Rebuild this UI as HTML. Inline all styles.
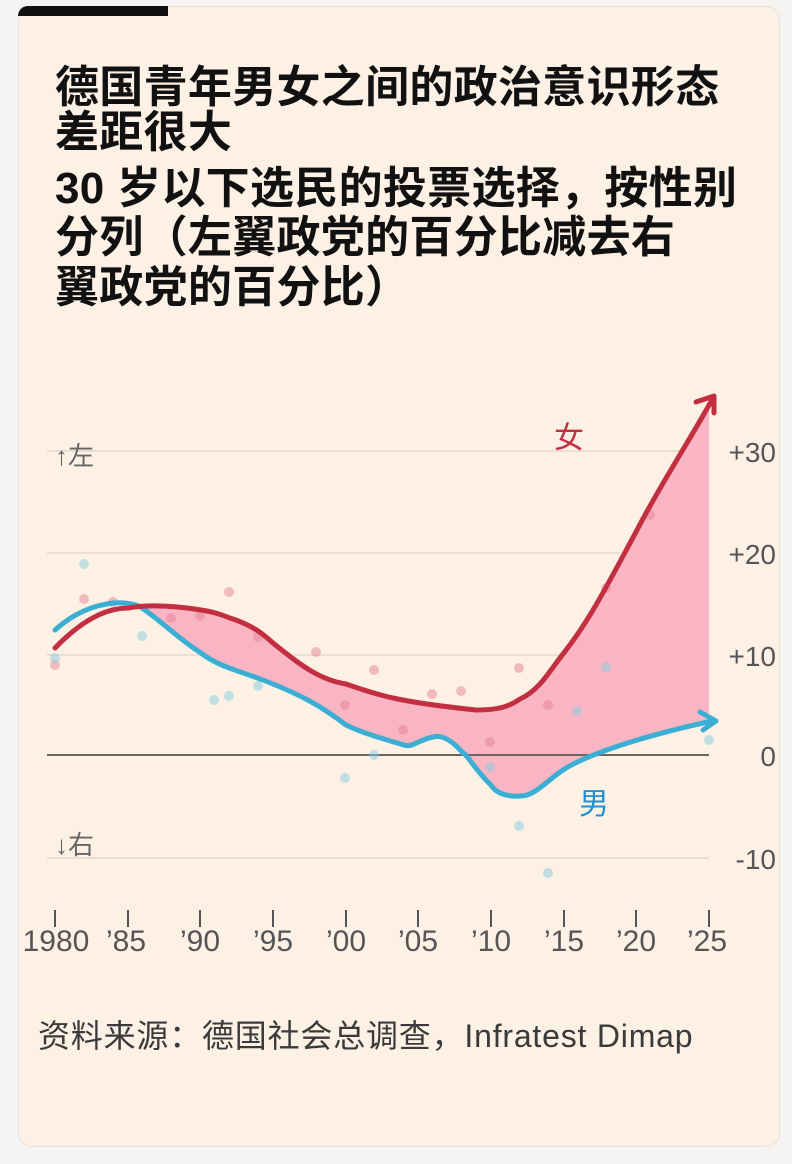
<!DOCTYPE html><html><head><meta charset="utf-8"><style>
body{margin:0;width:792px;height:1164px;background:#f6f4f2;position:relative;overflow:hidden;font-family:"Liberation Sans","Noto Sans CJK SC",sans-serif}
.card{position:absolute;left:18px;top:6px;width:760px;height:1139px;background:#fdf1e6;border-radius:14px;border:1px solid #e6e0da}
.bar{position:absolute;left:18px;top:6px;width:150px;height:10px;background:#111;border-top-left-radius:12px}
.t{position:absolute;left:55px;font-size:44px;font-weight:bold;color:#111;white-space:nowrap;line-height:1;letter-spacing:0.3px}
.src{position:absolute;left:38px;top:1011px;font-size:32px;color:#3a3a3a;white-space:nowrap;letter-spacing:0.8px}
</style></head><body>
<div class="card"></div><div class="bar"></div>
<div class="t" style="top:66px">德国青年男女之间的政治意识形态</div>
<div class="t" style="top:111px">差距很大</div>
<div class="t" style="top:167px">30 岁以下选民的投票选择，按性别</div>
<div class="t" style="top:216px">分列（左翼政党的百分比减去右</div>
<div class="t" style="top:266px">翼政党的百分比）</div>
<svg width="792" height="1164" style="position:absolute;left:0;top:0" font-family="Liberation Sans, Noto Sans CJK SC, sans-serif">
<g stroke="#eaddd3" stroke-width="2">
<line x1="47" y1="451" x2="709" y2="451"/><line x1="47" y1="553" x2="709" y2="553"/>
<line x1="47" y1="655" x2="709" y2="655"/><line x1="47" y1="858" x2="709" y2="858"/></g>
<path d="M142,606 C170,604 195,608 230,618 C255,626 265,636 273,643 C300,665 320,680 346,684 C380,696 400,702 476,710 C500,710 510,706 520,699 C540,690 550,670 563,654 C590,620 610,580 636,532 C660,485 690,440 709,405 L709,721 C680,728 640,738 607,750 C590,756 575,762 563,770 C545,782 535,796 520,796 C505,797 495,792 491,785 C475,770 468,755 462,752 C450,738 440,735 433,737 C418,740 412,748 404,745 C380,738 360,732 346,725 C320,705 300,695 273,684 C245,672 220,668 201,653 C180,640 160,620 142,608 Z" fill="#f9b5c4"/>
<line x1="47" y1="755" x2="709" y2="755" stroke="#6b6560" stroke-width="2"/>
<g fill="#e58593" opacity="0.5">
<circle cx="55" cy="665" r="5"/><circle cx="84" cy="599" r="5"/><circle cx="113" cy="602" r="5"/><circle cx="171" cy="618" r="5"/><circle cx="200" cy="616" r="5"/><circle cx="229" cy="592" r="5"/><circle cx="258" cy="637" r="5"/><circle cx="316" cy="652" r="5"/><circle cx="345" cy="705" r="5"/><circle cx="374" cy="670" r="5"/><circle cx="403" cy="730" r="5"/><circle cx="432" cy="694" r="5"/><circle cx="461" cy="691" r="5"/><circle cx="490" cy="742" r="5"/><circle cx="519" cy="668" r="5"/><circle cx="548" cy="705" r="5"/><circle cx="606" cy="588" r="5"/><circle cx="650" cy="515" r="5"/></g>
<g fill="#86cde0" opacity="0.5">
<circle cx="55" cy="658" r="5"/><circle cx="84" cy="564" r="5"/><circle cx="142" cy="636" r="5"/><circle cx="214" cy="700" r="5"/><circle cx="229" cy="696" r="5"/><circle cx="345" cy="778" r="5"/><circle cx="374" cy="755" r="5"/><circle cx="490" cy="767" r="5"/><circle cx="519" cy="826" r="5"/><circle cx="548" cy="873" r="5"/><circle cx="577" cy="711" r="5"/><circle cx="606" cy="667" r="5"/><circle cx="709" cy="740" r="5"/><circle cx="258" cy="686" r="5"/></g>
<path d="M55,630 C75,612 95,605 113,603 C128,602 138,605 142,608 C160,620 180,640 201,653 C220,668 245,672 273,684 C300,695 320,705 346,725 C360,732 380,738 404,745 C412,748 418,740 433,737 C440,735 450,738 462,752 C468,755 475,770 491,785 C495,792 505,797 520,796 C535,796 545,782 563,770 C575,762 590,756 607,750 C640,738 680,728 712,721" fill="none" stroke="#3aaed3" stroke-width="5" stroke-linecap="round"/>
<path d="M700,712 L716,721 L703,730" fill="none" stroke="#3aaed3" stroke-width="5" stroke-linecap="round" stroke-linejoin="round"/>
<path d="M55,648 C80,622 105,608 128,608 C150,604 175,606 201,610 C215,612 222,615 230,618 C255,626 265,636 273,643 C300,665 320,680 346,684 C380,696 400,702 476,710 C500,710 510,706 520,699 C540,690 550,670 563,654 C590,620 610,580 636,532 C660,485 690,440 713,398" fill="none" stroke="#c22f41" stroke-width="5" stroke-linecap="round"/>
<path d="M696,402 L714,396 L714,413" fill="none" stroke="#c22f41" stroke-width="5" stroke-linecap="round" stroke-linejoin="round"/>
<text x="554" y="448" font-size="30" fill="#c22f41">女</text>
<text x="579" y="814" font-size="30" fill="#1e8fd0">男</text>
<g font-size="26" fill="#666"><text x="55" y="465">↑左</text><text x="55" y="854">↓右</text></g>
<g font-size="28" fill="#555" text-anchor="end"><text x="776" y="462">+30</text><text x="776" y="564">+20</text><text x="776" y="666">+10</text><text x="776" y="766">0</text><text x="776" y="869">-10</text></g>
<g stroke="#555" stroke-width="2">
<line x1="55" y1="910" x2="55" y2="927"/><line x1="128" y1="910" x2="128" y2="927"/><line x1="200" y1="910" x2="200" y2="927"/><line x1="273" y1="910" x2="273" y2="927"/><line x1="346" y1="910" x2="346" y2="927"/><line x1="418" y1="910" x2="418" y2="927"/><line x1="491" y1="910" x2="491" y2="927"/><line x1="564" y1="910" x2="564" y2="927"/><line x1="636" y1="910" x2="636" y2="927"/><line x1="709" y1="910" x2="709" y2="927"/></g>
<g font-size="30" fill="#555" text-anchor="middle"><text x="56" y="951">1980</text><text x="126" y="951">’85</text><text x="200" y="951">’90</text><text x="273" y="951">’95</text><text x="346" y="951">’00</text><text x="418" y="951">’05</text><text x="491" y="951">’10</text><text x="564" y="951">’15</text><text x="636" y="951">’20</text><text x="707" y="951">’25</text></g>
</svg>
<div class="src">资料来源：德国社会总调查，Infratest Dimap</div>
</body></html>
